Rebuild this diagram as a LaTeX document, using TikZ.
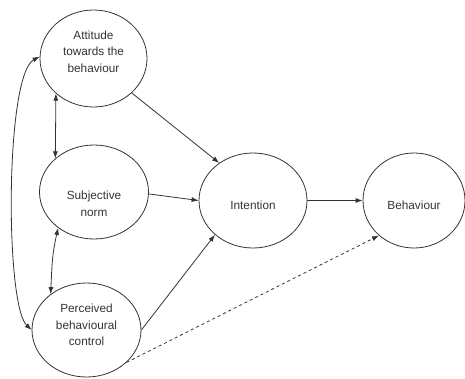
\documentclass[tikz,border=0pt]{standalone}
\usepackage{fontspec}
\setmainfont{Liberation Sans}
\usetikzlibrary{shapes.geometric,arrows.meta}
\definecolor{ink}{HTML}{333333}
\begin{document}
\begin{tikzpicture}[x=1pt,y=-1pt,
  ell/.style={ellipse,draw=ink,line width=0.8pt,inner sep=0pt},
  lab/.style={align=center,text=ink,inner sep=0pt,font=\fontsize{11.8}{16.5}\selectfont},
  arr/.style={draw=ink,line width=0.8pt,-{Latex[length=7pt,width=5pt]}},
  darr/.style={draw=ink,line width=0.8pt,{Latex[length=7pt,width=5pt]}-{Latex[length=7pt,width=5pt]}}]
\useasboundingbox (0,0) rectangle (465,378);
\node[ell,minimum width=107pt,minimum height=97pt,
  label={[lab,yshift=7pt]center:{Attitude\\towards the\\behaviour}}] (att) at (93.5,58.5) {};
\node[ell,minimum width=109pt,minimum height=94pt,
  label={[lab,yshift=-12pt]center:{Subjective\\norm}}] (subj) at (94,192) {};
\node[ell,minimum width=109pt,minimum height=94pt,
  label={[lab,yshift=5pt]center:{Perceived\\behavioural\\control}}] (perc) at (86.5,330) {};
\node[ell,minimum width=108pt,minimum height=95pt,
  label={[lab,yshift=-4.5pt]center:{Intention}}] (int) at (253,200.5) {};
\node[ell,minimum width=102pt,minimum height=95pt,
  label={[lab,yshift=-4.5pt]center:{Behaviour}}] (beh) at (414,200.5) {};
\draw[arr] (att.-42) -- (int.132);
\draw[arr] (subj.-2) -- (int.180);
\draw[arr] (perc.0) -- (int.-138);
\draw[arr] (int.east) -- (beh.west);
\draw[arr,dashed] (perc.-39) -- (beh.225);
\draw[darr] (att.223) -- (subj.139);
\draw[darr] (subj.225) .. controls (52,255) and (52,265) .. (perc.135);
\draw[darr] (att.178) .. controls (5,75) and (5,305) .. (perc.180);
\end{tikzpicture}
\end{document}
